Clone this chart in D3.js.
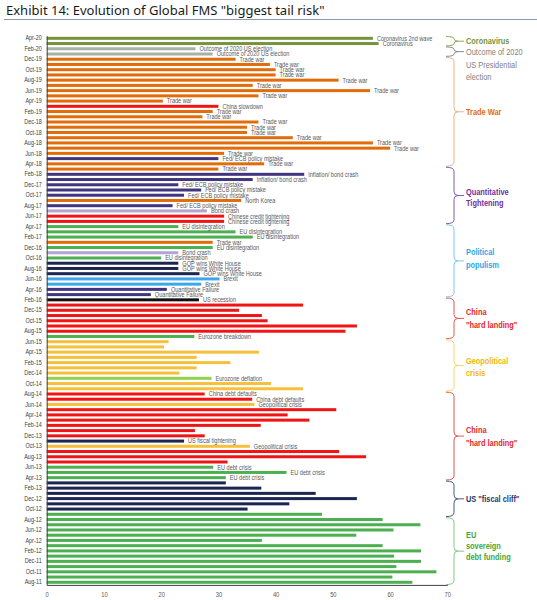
<!DOCTYPE html>
<html><head><meta charset="utf-8">
<script src="https://cdn.jsdelivr.net/npm/d3@7"></script>
<style>html,body{margin:0;padding:0;background:#fff;}svg{display:block;}</style>
</head><body>
<script>
const months = ["Apr-20","Mar-20","Feb-20","Jan-20","Dec-19","Nov-19","Oct-19","Sep-19","Aug-19","Jul-19","Jun-19","May-19","Apr-19","Mar-19","Feb-19","Jan-19","Dec-18","Nov-18","Oct-18","Sep-18","Aug-18","Jul-18","Jun-18","May-18","Apr-18","Mar-18","Feb-18","Jan-18","Dec-17","Nov-17","Oct-17","Sep-17","Aug-17","Jul-17","Jun-17","May-17","Apr-17","Mar-17","Feb-17","Jan-17","Dec-16","Nov-16","Oct-16","Sep-16","Aug-16","Jul-16","Jun-16","May-16","Apr-16","Mar-16","Feb-16","Jan-16","Dec-15","Nov-15","Oct-15","Sep-15","Aug-15","Jul-15","Jun-15","May-15","Apr-15","Mar-15","Feb-15","Jan-15","Dec-14","Nov-14","Oct-14","Sep-14","Aug-14","Jul-14","Jun-14","May-14","Apr-14","Mar-14","Feb-14","Jan-14","Dec-13","Nov-13","Oct-13","Sep-13","Aug-13","Jul-13","Jun-13","May-13","Apr-13","Mar-13","Feb-13","Jan-13","Dec-12","Nov-12","Oct-12","Sep-12","Aug-12","Jul-12","Jun-12","May-12","Apr-12","Mar-12","Feb-12","Jan-12","Dec-11","Nov-11","Oct-11","Sep-11","Aug-11"];

const values = [57,58,26,29,33,39,40,40,51,36,56.5,37,20.3,30,29,27.2,37,35,35,43,57,60,31,30,38,30,45,36,23,27,24,34,22,28,31,31,23,33,36,29,29,23,20,23,23,26.7,30.2,27,21,18.2,26.6,44.8,33.6,37.6,38.6,54.2,52.2,25.8,21.3,20.5,37.1,26.2,32.1,26.2,23.2,28.8,39.2,44.8,27.6,35.9,36.3,50.6,42.1,45.9,37.4,25.9,27.6,24,35.5,51.1,55.8,31.6,29.1,41.9,31.3,31.3,37.5,47,54.2,42.4,35.1,48.1,58.7,65.3,60.6,54.1,37.6,58.7,65.4,60.7,65.4,61.1,68.1,60.4,63.9];

const riskType = ["covid","covid","election","election","trade","trade","trade","trade","trade","trade","trade","trade","trade","china","trade","trade","trade","trade","trade","trade","trade","trade","trade","policy","trade","trade","policy","policy","policy","policy","policy","trade","policy","bond","china","china","eu","eu","eu","trade","eu","bond","eu","navy","navy","navy","brexit","brexit","policy","policy","black","china","china","china","china","china","china","eu","geo","geo","geo","geo","geo","geo","geo","deflation","geo","geo","china","china","geo","china","china","china","china","china","china","navy","geo","china","china","china","eu","eu","eu","navy","navy","navy","navy","navy","navy","eu","eu","eu","eu","eu","eu","eu","eu","eu","eu","eu","eu","eu","eu"];

const riskLabels = ["Coronavirus 2nd wave","Coronavirus","Outcome of 2020 US election","Outcome of 2020 US election","Trade war","Trade war","Trade war","Trade war","Trade war","Trade war","Trade war","Trade war","Trade war","China slowdown","Trade war","Trade war","Trade war","Trade war","Trade war","Trade war","Trade war","Trade war","Trade war","Fed/ ECB policy mistake","Trade war","Trade war","Inflation/  bond crash","Inflation/  bond crash","Fed/ ECB policy mistake","Fed/ ECB policy mistake","Fed/ ECB policy mistake","North Korea","Fed/ ECB policy mistake","Bond crash","Chinese credit tightening","Chinese credit tightening","EU disintegration","EU disintegration","EU disintegration","Trade war","EU disintegration","Bond crash","EU disintegration","GOP wins White House","GOP wins White House","GOP wins White House","Brexit","Brexit","Quantitative  Failure","Quantitative  Failure","US recession","","","","","","","Eurozone  breakdown","","","","","","","","Eurozone  deflation","","","China debt defaults","China debt defaults","Geopolitical  crisis","","","","","","","US fiscal tightening","Geopolitical  crisis","","","","EU debt crisis","EU debt crisis","EU debt crisis","","","","","","","","","","","","","","","","","","","",""];

const xTicks = [0,10,20,30,40,50,60,70];

const groupNames = [["Coronavirus"],["Outcome of  2020","US Presidential","election"],["Trade War"],["Quantitative","Tightening"],["Political","populism"],["China","\"hard landing\""],["Geopolitical","crisis"],["China","\"hard landing\""],["US \"fiscal cliff\""],["EU","sovereign","debt funding"]];
const groupStart = ["Apr-20","Feb-20","Dec-19","Mar-18","Apr-17","Feb-16","Jun-15","Aug-14","Mar-13","Aug-12"];
const groupEnd = ["Mar-20","Jan-20","Apr-18","May-17","Mar-16","Jul-15","Sep-14","Apr-13","Sep-12","Aug-11"];
const groupKey = ["covid","election","trade","qt","populism","china","geo","china","fiscal","eusov"];

const barColor = {covid:"#77933c",election:"#a8b1a8",trade:"#e36c0a",china:"#f01414",policy:"#40357f",bond:"#b2a3d3",eu:"#4caf50",navy:"#1c2650",brexit:"#3ea6ea",black:"#111111",geo:"#f6c03c",deflation:"#92d050"};
const groupText = {covid:"#77933c",election:"#7f7f7f",trade:"#e36c0a",qt:"#7030a0",populism:"#2aa8e6",china:"#e5272a",geo:"#f2b705",fiscal:"#1f3864",eusov:"#3ea83e"};
const groupBrace = {covid:"#8fa858",election:"#8c8c8c",trade:"#e9b48a",qt:"#7a5cb8",populism:"#7cc8ee",china:"#e25858",geo:"#f7d66a",fiscal:"#4a5a80",eusov:"#84c984"};

const W = 537, H = 600;
const svg = d3.select("body").append("svg").attr("width", W).attr("height", H);

const sans = "'Liberation Sans',Arial,sans-serif";
const NARROW = 0.82;
function narrowify(sel) {
  sel.each(function() {
    const len = this.getComputedTextLength();
    if (len > 0) d3.select(this).attr("textLength", len * NARROW).attr("lengthAdjust", "spacingAndGlyphs");
  });
}

// Title
const title = svg.append("text").attr("x", 6).attr("y", 14.5)
  .attr("font-family", "'Noto Sans','Open Sans',sans-serif").attr("font-size", 13)
  .attr("fill", "#1a1a1a").text("Exhibit 14: Evolution of Global FMS \"biggest tail risk\"");
const tl = title.node().getComputedTextLength();
title.attr("font-size", 13 * 319 / tl);
svg.append("line").attr("x1", 4).attr("x2", 537).attr("y1", 19.5).attr("y2", 19.5)
  .attr("stroke", "#8a9bb6").attr("stroke-width", 1);

const x = d3.scaleLinear().domain([0, 70]).range([46.7, 447.3]);
const y = d3.scaleBand().domain(months).range([35.7, 584.9]).paddingInner(0);
const bh = 3;

const rows = months.map((m, i) => ({m, v: values[i], t: riskType[i], lab: riskLabels[i]}));

svg.append("g").selectAll("rect").data(rows).join("rect")
  .attr("x", x(0)).attr("y", d => y(d.m) + (y.bandwidth() - bh) / 2)
  .attr("width", d => x(d.v) - x(0)).attr("height", bh)
  .attr("fill", d => barColor[d.t]);

const labs = svg.append("g").selectAll("text").data(rows.filter(d => d.lab)).join("text")
  .attr("x", d => x(d.v) + 4).attr("y", d => y(d.m) + y.bandwidth() / 2)
  .attr("dy", "0.35em").attr("font-family", sans).attr("font-size", 6.8)
  .attr("fill", "#595959").text(d => d.lab);
narrowify(labs);

// Axes
const yAxis = d3.axisLeft(y).tickValues(months.filter((m, i) => i % 2 === 0)).tickSize(0).tickPadding(5);
const gy = svg.append("g").attr("transform", `translate(${x(0)},0)`).call(yAxis);
gy.select(".domain").attr("stroke", "#404040");
gy.selectAll("text").attr("font-family", sans).attr("font-size", 6.6).attr("fill", "#404040");
narrowify(gy.selectAll("text"));

const xAxis = d3.axisBottom(x).tickValues(xTicks).tickSize(0).tickPadding(7);
const gx = svg.append("g").attr("transform", `translate(0,${584.9})`).call(xAxis);
gx.select(".domain").attr("stroke", "#404040");
gx.selectAll("text").attr("font-family", sans).attr("font-size", 7).attr("fill", "#595959");
narrowify(gx.selectAll("text"));

// Braces
const bx = 454;
const offsets = {covid:[0],election:[0,13.5,25],trade:[0],qt:[-3.5,7.5],populism:[-9,3.5],china:[-6.5,6.5],geo:[-4.5,7.5],fiscal:[0],eusov:[-16.5,-5,6]};
groupNames.forEach((names, i) => {
  const k = groupKey[i];
  const y0 = y(groupStart[i]) + 0.8;
  const y1 = y(groupEnd[i]) + y.bandwidth() - 0.3;
  const ym = (y0 + y1) / 2;
  const r = Math.min(4, (y1 - y0) / 4);
  const p = `M${bx-8},${y0} Q${bx},${y0} ${bx},${y0+r} L${bx},${ym-r} Q${bx},${ym} ${bx+4},${ym} L${bx+10},${ym} M${bx+4},${ym} Q${bx},${ym} ${bx},${ym+r} L${bx},${y1-r} Q${bx},${y1} ${bx-8},${y1}`;
  svg.append("path").attr("d", p).attr("fill", "none").attr("stroke", groupBrace[k]).attr("stroke-width", 1);
  const t = svg.append("text").attr("font-family", sans).attr("font-size", 9)
    .attr("font-weight", k === "election" ? "normal" : "bold").attr("fill", groupText[k]);
  names.forEach((n, j) => {
    t.append("tspan").attr("x", 466).attr("y", ym + offsets[k][j]).attr("dy", "0.35em").text(n);
  });
  narrowify(t.selectAll("tspan"));
});
</script>
</body></html>
